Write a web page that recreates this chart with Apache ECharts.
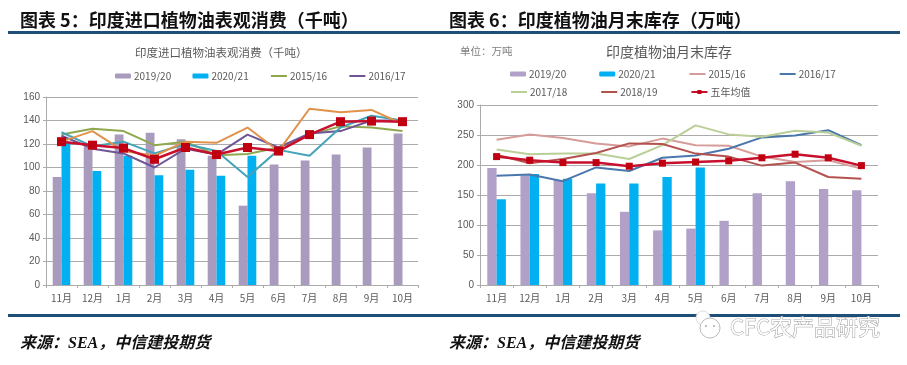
<!DOCTYPE html>
<html><head><meta charset="utf-8">
<style>html,body{margin:0;padding:0;background:#fff}#c{width:907px;height:365px}</style>
<script src="https://cdn.jsdelivr.net/npm/echarts@6/dist/echarts.min.js"></script>
</head><body><div id="c"></div>
<script>
const months = ['11月','12月','1月','2月','3月','4月','5月','6月','7月','8月','9月','10月'];
// 图表 5
const consBar1920 = [92,118,128,129.5,124,110,67.5,102.5,106,111,117,129];
const consBar2021 = [122,97,110,93.5,98,93,110];
const cons1516 = [128,133,131,119,122,110.5,111.5,117,128,135,134,131];
const cons1617 = [127,116,112,100,116,111,128,117,129,131,140,140];
const cons1718 = [130,118,122,112,120,114,92,115,110,134,144,140];
const cons1819 = [122,131,114,110,122,121,134,114,150,147,149,137];
const consAvg = [122,119,116.5,107,117,111,117,114,128,139,139.5,139];
// 图表 6
const stockBar1920 = [195,183,175,153,122,91,94,107,153,173,160,158];
const stockBar2021 = [143,185,177,169,169,180,196];
const stock1516 = [242,251,245,236,231,244,233,232,214,205,208,194];
const stock1617 = [182,184,173,196,190,212,216,227,246,249,258,233];
const stock1718 = [226,218,219,219,210,233,266,251,247,257,254,232];
const stock1819 = [217,203,210,220,236,235,219,214,199,204,180,177];
const stockAvg = [214,208,204,204,198,203,205,207,212,218,212,199];

const SANS = '"Noto Sans CJK SC","Noto Sans",sans-serif';
const NAVY = '#1F4E79';
const AXIS = '#ABABAB';
const LABEL = '#595959';

function bar(name, data, color, i, bw){
  return {type:'bar',name,data,xAxisIndex:i,yAxisIndex:i,barWidth:bw,barGap:0,
    itemStyle:{color},z:2,animation:false};
}
function line(name, data, color, i){
  return {type:'line',name,data,xAxisIndex:i,yAxisIndex:i,symbol:'none',
    lineStyle:{color,width:2},itemStyle:{color},z:3,animation:false};
}
function avg(name, data, i, size){
  return {type:'line',name,data,xAxisIndex:i,yAxisIndex:i,symbol:'rect',symbolSize:size,
    lineStyle:{color:'#C8102E',width:2.5},itemStyle:{color:'#C00010'},z:5,animation:false};
}
function xAxis(i){
  return {type:'category',gridIndex:i,data:months,
    axisLine:{lineStyle:{color:AXIS,width:1}},
    axisTick:{show:true,alignWithLabel:false,length:3,lineStyle:{color:AXIS}},
    axisLabel:{color:LABEL,fontSize:10,fontFamily:SANS,margin:8}};
}
function yAxis(i,max,interval){
  return {type:'value',gridIndex:i,min:0,max,interval,
    axisLine:{show:true,lineStyle:{color:AXIS,width:1}},
    axisTick:{show:true,length:3,lineStyle:{color:AXIS}},
    splitLine:{lineStyle:{color:AXIS,width:1.2}},
    axisLabel:{color:LABEL,fontSize:10,fontFamily:'"Liberation Sans",sans-serif',margin:6}};
}
function legend(data,left,top,gap){
  return {data:data.map(function(d){
      return d.indexOf('2019')===0||d.indexOf('2020')===0||d.indexOf('五年')===0 ? {name:d} : {name:d,itemStyle:{opacity:0}};
    }),left,top,orient:'horizontal',itemWidth:16,itemHeight:5,itemGap:gap,
    selectedMode:false,padding:0,
    textStyle:{color:LABEL,fontSize:10,fontFamily:SANS,padding:[0,0,0,-2]}};
}
function text(x,y,t,font,fill,extra){
  return {type:'text',x,y,silent:true,style:Object.assign({text:t,font,fill,textVerticalAlign:'middle'},extra||{})};
}
function rect(x,y,w,h){
  return {type:'rect',silent:true,shape:{x,y,width:w,height:h},style:{fill:NAVY}};
}
const HEAD = 'bold 18px '+SANS;
const FOOT = 'italic bold 16px "Liberation Serif",'+SANS;
const option = {
  backgroundColor:'#fff',animation:false,
  grid:[{left:46,top:97,width:372,height:188},{left:480,top:105,width:398,height:180}],
  xAxis:[xAxis(0),xAxis(1)],
  yAxis:[yAxis(0,160,20),yAxis(1,300,50)],
  legend:[
    legend(['2019/20 ','2020/21 ','2015/16 ','2016/17 '],115,71,19),
    legend(['2019/20','2020/21','2015/16','2016/17'],510,69,33),
    legend(['2017/18','2018/19','五年均值'],510,87,33)
  ],
  series:[
    bar('2019/20 ',consBar1920,'#A99BBE',0,8.8),
    bar('2020/21 ',consBar2021,'#00B0F0',0,8.8),
    line('2015/16 ',cons1516,'#8FA84E',0),
    line('2016/17 ',cons1617,'#6F5596',0),
    line('2017/18 ',cons1718,'#43A3B8',0),
    line('2018/19 ',cons1819,'#E0924A',0),
    avg('五年均值 ',consAvg,0,9),
    bar('2019/20',stockBar1920,'#B1A0C7',1,9.3),
    bar('2020/21',stockBar2021,'#00B0F0',1,9.3),
    line('2015/16',stock1516,'#D69C9A',1),
    line('2016/17',stock1617,'#4A78AC',1),
    line('2017/18',stock1718,'#BACF97',1),
    line('2018/19',stock1819,'#B4524F',1),
    avg('五年均值',stockAvg,1,7)
  ],
  graphic:[
    rect(8,31,442,3),rect(445,31,455,3),rect(8,314,442,3),rect(445,314,455,3),
    text(20,20,'图表 5：印度进口植物油表观消费（千吨）',HEAD,'#111'),
    text(449,20,'图表 6：印度植物油月末库存（万吨）',HEAD,'#111'),
    text(135,53,'印度进口植物油表观消费（千吨）','11.5px '+SANS,'#595959'),
    text(606,52,'印度植物油月末库存','14px '+SANS,'#595959'),
    text(460,51,'单位：万吨','10.5px '+SANS,'#7F7F7F'),
    text(20,344,'来源：SEA，中信建投期货',FOOT,'#111'),
    text(449,344,'来源：SEA，中信建投期货',FOOT,'#111'),
    {type:'circle',silent:true,shape:{cx:703,cy:318,r:7},style:{fill:'#fff',stroke:'#ddd',lineWidth:1}},
    {type:'circle',silent:true,shape:{cx:710,cy:328,r:10},style:{fill:'#fff',stroke:'#bbb',lineWidth:1}},
    {type:'circle',silent:true,shape:{cx:706,cy:326,r:1},style:{fill:'#aaa'}},
    {type:'circle',silent:true,shape:{cx:714,cy:326,r:1},style:{fill:'#aaa'}},
    text(730,327,'CFC农产品研究','22px '+SANS,'#fff',{stroke:'#9a9a9a',lineWidth:1})
  ]
};
const chart = echarts.init(document.getElementById('c'),null,{renderer:'canvas'});
chart.setOption(option);
</script></body></html>
